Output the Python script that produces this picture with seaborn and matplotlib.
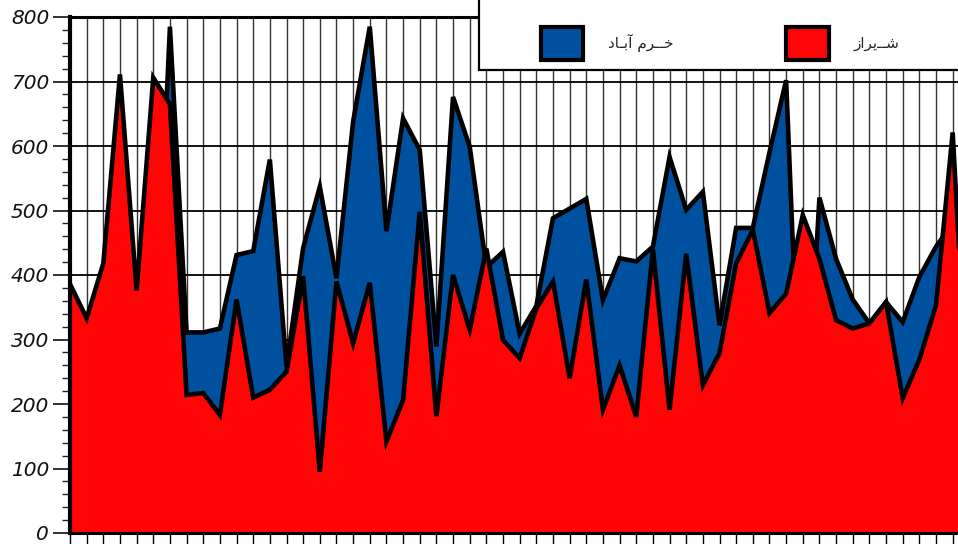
import numpy as np
import pandas as pd
import matplotlib
matplotlib.use("Agg")
import matplotlib.pyplot as plt
from matplotlib.patches import Patch, Rectangle
import seaborn as sns

# values (one point per vertical grid line)
shiraz = [386, 333, 418, 711, 376, 706, 665, 214, 217, 183, 362, 210, 222, 250, 398,
          95, 390, 294, 388, 142, 206, 498, 181, 400, 315, 441, 299, 271, 348, 390,
          240, 393, 191, 260, 180, 440, 191, 433, 229, 279, 418, 470, 341, 371, 493,
          425, 330, 317, 325, 358, 209, 269, 353, 621, 150]
khorramabad = [330, 300, 350, 380, 330, 215, 785, 311, 311, 317, 431, 437, 579, 258, 442,
               537, 395, 638, 785, 468, 643, 594, 289, 676, 599, 412, 436, 309, 352, 488,
               503, 518, 361, 426, 421, 444, 583, 501, 529, 322, 473, 473, 590, 702, 70,
               520, 425, 362, 325, 358, 327, 397, 444, 480, 140]
idx = list(range(len(shiraz)))
y_ticks = list(range(0, 801, 100))
y_labels = [str(v) for v in y_ticks]

# Persian labels, pre-shaped (presentation forms, visual order)
label_khorramabad = "\ufea9\ufe8e\u0640\ufe91\ufe81 \ufee1\ufeae\u0640\u0640\ufea7"
label_shiraz = "\ufeaf\ufe8d\ufeae\ufbfe\u0640\u0640\ufeb7"

df = pd.DataFrame({"i": idx, "shiraz": shiraz, "khorramabad": khorramabad})

blue = "#0050A0"
red = "#FF0505"

sns.set_style("white")
plt.rcParams["font.family"] = ["DejaVu Sans", "Noto Sans"]

fig = plt.figure(figsize=(9.58, 5.44), dpi=100)
ax = fig.add_axes([70 / 958, 11 / 544, 888 / 958, 516 / 544])

# areas: blue behind, red in front
ax.fill_between(df["i"], df["khorramabad"], color=blue, lw=0, zorder=2)
sns.lineplot(data=df, x="i", y="khorramabad", color="black", lw=3.3, ax=ax,
             sort=False, estimator=None, zorder=3, solid_joinstyle="miter")
ax.fill_between(df["i"], df["shiraz"], color=red, lw=0, zorder=4)
sns.lineplot(data=df, x="i", y="shiraz", color="black", lw=3.3, ax=ax,
             sort=False, estimator=None, zorder=5, solid_joinstyle="miter")

ax.set_xlabel("")
ax.set_ylabel("")

ax.set_xticks(idx)
ax.set_xticklabels([])
ax.set_yticks(y_ticks, labels=y_labels)
ax.set_yticks(range(0, 801, 20), minor=True)
ax.set_xlim(0, 53.32)
ax.set_ylim(0, 800)
ax.tick_params(axis="x", direction="out", length=8, width=1, color="black", bottom=True)
ax.tick_params(axis="y", which="major", direction="out", length=12, width=1.3,
               color="#222222", pad=3, left=True)
ax.tick_params(axis="y", which="minor", direction="out", length=6, width=1,
               color="#222222", left=True)
for t in ax.yaxis.get_majorticklabels():
    t.set_fontstyle("oblique")
    t.set_fontsize(14.5)
    t.set_color("#111111")

ax.set_axisbelow(True)
ax.grid(axis="x", color="#333333", lw=1)
ax.grid(axis="y", which="major", color="black", lw=1.3)

for side in ["left", "top", "bottom"]:
    ax.spines[side].set_visible(True)
    ax.spines[side].set_color("black")
ax.spines["left"].set_linewidth(3)
ax.spines["top"].set_linewidth(2.2)
ax.spines["bottom"].set_linewidth(2.2)
ax.spines["right"].set_visible(False)
for s in ax.spines.values():
    s.set_zorder(6)

# legend box
ax.add_patch(Rectangle(((479 - 70) / 888, (533 - 70) / 516), 0.6, 0.2,
                       transform=ax.transAxes, facecolor="white", edgecolor="black",
                       lw=1.6, zorder=7, clip_on=False))
handles = [Patch(facecolor=blue, edgecolor="black", linewidth=3),
           Patch(facecolor=red, edgecolor="black", linewidth=3)]
leg = ax.legend(handles, [label_khorramabad, label_shiraz], ncol=2, loc="center",
                bbox_to_anchor=((720 - 70) / 888, (533 - 43.5) / 516), frameon=False,
                handlelength=2.8, handleheight=2.9, handletextpad=1.6,
                columnspacing=7.4, fontsize=11)
leg.set_zorder(8)

fig.savefig("out.png", dpi=100)
